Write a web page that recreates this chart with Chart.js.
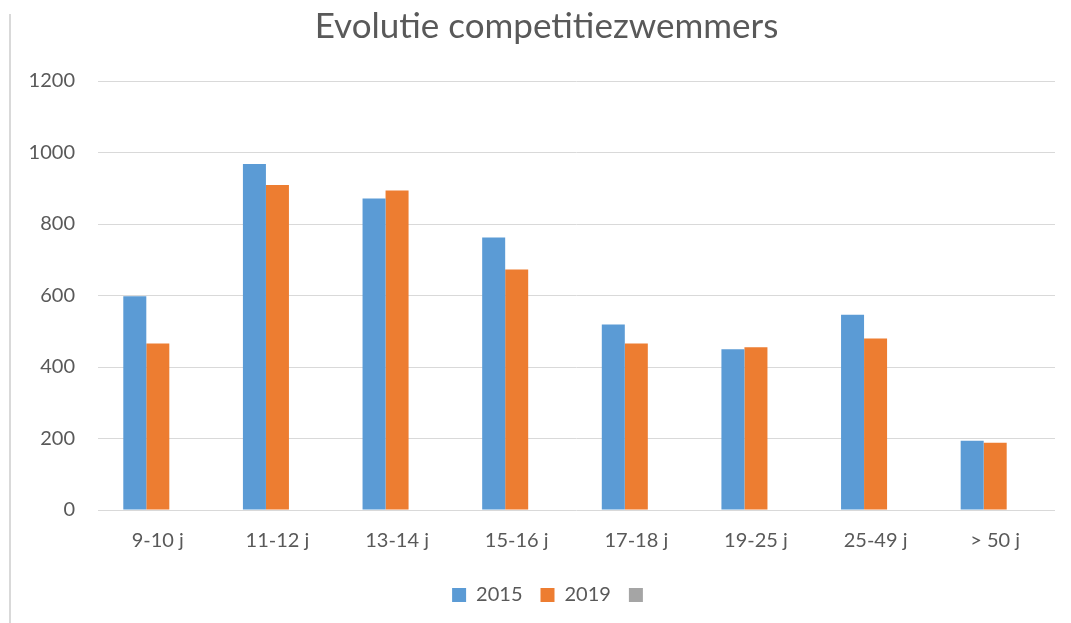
<!DOCTYPE html>
<html>
<head>
<meta charset="utf-8">
<script src="https://cdn.jsdelivr.net/npm/chart.js@4"></script>
<style>
html,body{margin:0;padding:0;background:#fff;}
#wrap{position:relative;width:1071px;height:623px;}
#frame{position:absolute;left:9px;top:14px;width:2px;bottom:0;background:#d9d9d9;}
canvas{position:absolute;left:0;top:0;}
</style>
</head>
<body>
<div id="wrap"><div id="frame"></div><canvas id="c" width="1071" height="623"></canvas></div>
<script>
const categories = ['9-10 j','11-12 j','13-14 j','15-16 j','17-18 j','19-25 j','25-49 j','> 50 j'];
const v2015 = [598, 968, 871, 762, 519, 450, 546, 194];
const v2019 = [466, 909, 894, 673, 466, 455, 480, 188];
const vBlank = [];
const seriesLabels = ['2015', '2019', ''];
const yTicks = [0, 200, 400, 600, 800, 1000, 1200];

const FONT = 'Lato, "Open Sans", sans-serif';
const TXT = '#595959';

const boxShift = {
  id: 'boxShift',
  afterLayout(chart) {
    const lg = chart.legend;
    if (lg) { lg.left += 25; lg.right += 25; }
    const tt = chart.titleBlock;
    if (tt) { tt.left += 19; tt.right += 19; }
  }
};

new Chart(document.getElementById('c'), {
  type: 'bar',
  data: {
    labels: categories,
    datasets: [
      {label: seriesLabels[0], data: v2015, backgroundColor: '#5B9BD5'},
      {label: seriesLabels[1], data: v2019, backgroundColor: '#ED7D31'},
      {label: seriesLabels[2], data: vBlank, backgroundColor: '#A5A5A5'}
    ]
  },
  plugins: [boxShift],
  options: {
    responsive: false,
    animation: false,
    devicePixelRatio: 1,
    categoryPercentage: 0.577,
    barPercentage: 1.0,
    layout: {padding: {left: 0, right: 16, top: 0, bottom: 8}},
    plugins: {
      title: {
        display: true,
        text: 'Evolutie competitiezwemmers',
        color: TXT,
        font: {family: FONT, size: 35, weight: 'normal'},
        padding: {top: 6, bottom: 33}
      },
      legend: {
        position: 'bottom',
        labels: {
          color: TXT,
          font: {family: FONT, size: 20},
          boxWidth: 14,
          boxHeight: 14,
          padding: 18
        }
      },
      tooltip: {enabled: false}
    },
    scales: {
      x: {
        grid: {display: false, drawTicks: false},
        border: {display: false},
        ticks: {color: TXT, font: {family: FONT, size: 20}, padding: 19},
        afterFit: (s) => { s.height = s.height - 5; }
      },
      y: {
        min: 0,
        max: yTicks[yTicks.length - 1],
        afterBuildTicks: (s) => { s.ticks = yTicks.map(v => ({value: v})); },
        afterFit: (s) => { s.width = 98; },
        grid: {color: '#d9d9d9', lineWidth: 1, drawTicks: false},
        border: {display: false},
        ticks: {color: TXT, font: {family: FONT, size: 20}, padding: 23,
                callback: (v) => String(v)}
      }
    }
  }
});
</script>
</body>
</html>
